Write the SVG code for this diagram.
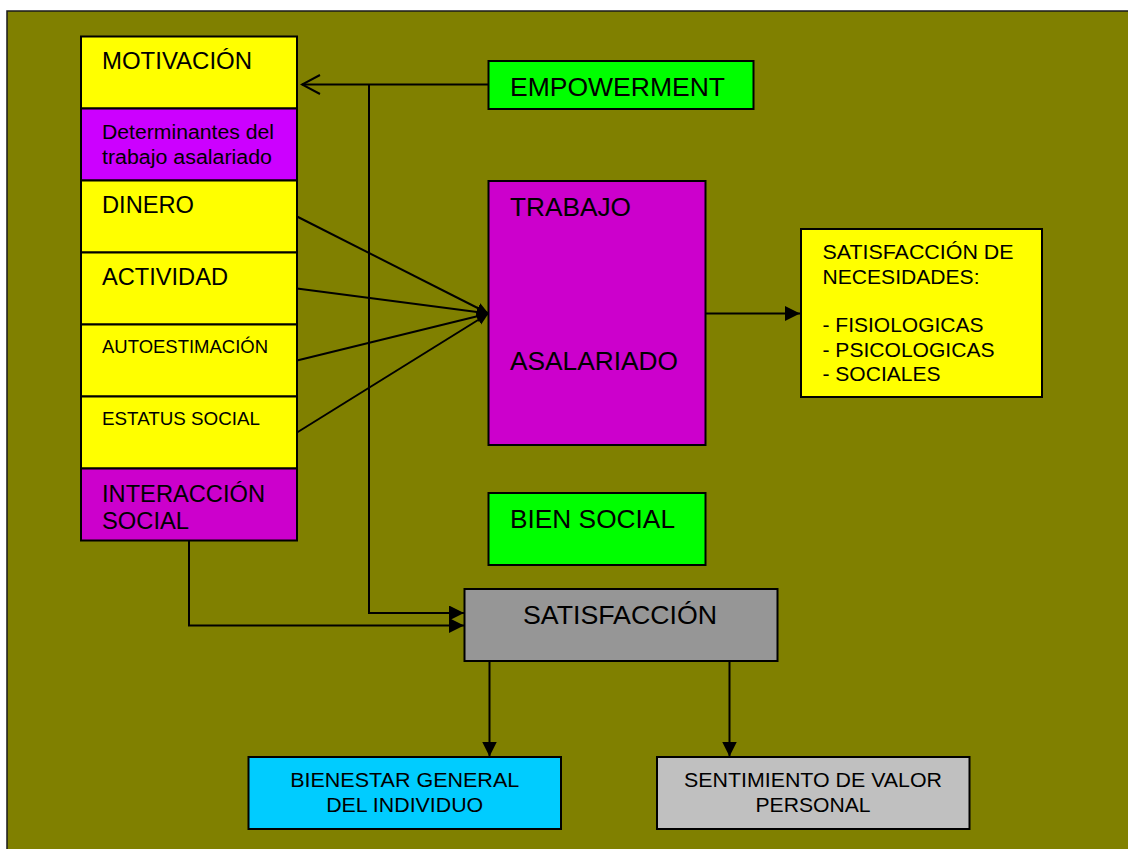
<svg xmlns="http://www.w3.org/2000/svg" width="1128" height="849" viewBox="0 0 1128 849">
  <style>
    text { font-family: "Liberation Sans", Arial, sans-serif; fill: #000; }
    .box { stroke: #000; stroke-width: 2; }
    .yellow { fill: #ffff00; }
    .violet { fill: #cc00ff; }
    .magenta { fill: #cc00cc; }
    .green { fill: #00ff00; }
    .grey { fill: #969696; }
    .silver { fill: #c0c0c0; }
    .cyan { fill: #00ccff; }
    .link { fill: none; stroke: #000; stroke-width: 2; }
    .mid { text-anchor: middle; }
  </style>
  <defs>
    <marker id="head" markerUnits="userSpaceOnUse" markerWidth="15" markerHeight="15" refX="15" refY="7.5" orient="auto">
      <path d="M0,0 L15,7.5 L0,15 z" fill="#000"/>
    </marker>
    <marker id="headSmall" markerUnits="userSpaceOnUse" markerWidth="12" markerHeight="12" refX="12" refY="6" orient="auto">
      <path d="M0,0.5 L12,6 L0,11.5 z" fill="#000"/>
    </marker>
    <marker id="open" markerUnits="userSpaceOnUse" markerWidth="22" markerHeight="24" refX="20" refY="12" orient="auto">
      <path d="M2,2.5 L20,12 L2,21.5" fill="none" stroke="#000" stroke-width="2"/>
    </marker>
  </defs>

  <!-- page background -->
  <rect x="7" y="11" width="1130" height="850" fill="#808000" stroke="#1a1a1a" stroke-width="1.5"/>

  <!-- connectors -->
  <g id="connectors">
    <path class="link" d="M488,84.5 H302" marker-end="url(#open)"/>
    <path class="link" d="M369,84.5 V613 H464" marker-end="url(#head)"/>
    <path class="link" d="M189,540.5 V625.5 H464" marker-end="url(#head)"/>
    <path class="link" d="M297,216.5 L488.5,313.5" marker-end="url(#headSmall)"/>
    <path class="link" d="M297,288.5 L488.5,313.5" marker-end="url(#headSmall)"/>
    <path class="link" d="M297,360.5 L488.5,313.5" marker-end="url(#headSmall)"/>
    <path class="link" d="M297,432.5 L488.5,313.5" marker-end="url(#headSmall)"/>
    <path class="link" d="M706,313.5 H800" marker-end="url(#head)"/>
    <path class="link" d="M489.5,661 V756.5" marker-end="url(#head)"/>
    <path class="link" d="M729.5,661 V756.5" marker-end="url(#head)"/>
  </g>

  <!-- left column -->
  <g id="motivacion">
    <rect class="box yellow" x="81" y="36.5" width="216" height="72"/>
    <text x="102" y="68.5" font-size="23" textLength="150" lengthAdjust="spacingAndGlyphs">MOTIVACIÓN</text>
  </g>
  <g id="determinantes">
    <rect class="box violet" x="81" y="108.5" width="216" height="72"/>
    <text x="102" y="138.5" font-size="20" textLength="172" lengthAdjust="spacingAndGlyphs">Determinantes del</text>
    <text x="102" y="163.5" font-size="20" textLength="170" lengthAdjust="spacingAndGlyphs">trabajo asalariado</text>
  </g>
  <g id="dinero">
    <rect class="box yellow" x="81" y="180.5" width="216" height="72"/>
    <text x="102" y="212.5" font-size="23" textLength="92" lengthAdjust="spacingAndGlyphs">DINERO</text>
  </g>
  <g id="actividad">
    <rect class="box yellow" x="81" y="252.5" width="216" height="72"/>
    <text x="102" y="284.5" font-size="23" textLength="126" lengthAdjust="spacingAndGlyphs">ACTIVIDAD</text>
  </g>
  <g id="autoestimacion">
    <rect class="box yellow" x="81" y="324.5" width="216" height="72"/>
    <text x="102" y="352.5" font-size="18" textLength="166" lengthAdjust="spacingAndGlyphs">AUTOESTIMACIÓN</text>
  </g>
  <g id="estatus">
    <rect class="box yellow" x="81" y="396.5" width="216" height="72"/>
    <text x="102" y="425" font-size="18" textLength="158" lengthAdjust="spacingAndGlyphs">ESTATUS SOCIAL</text>
  </g>
  <g id="interaccion">
    <rect class="box magenta" x="81" y="468.5" width="216" height="72"/>
    <text x="102" y="501.5" font-size="23" textLength="163" lengthAdjust="spacingAndGlyphs">INTERACCIÓN</text>
    <text x="102" y="528.5" font-size="23" textLength="87" lengthAdjust="spacingAndGlyphs">SOCIAL</text>
  </g>

  <!-- centre nodes -->
  <g id="empowerment">
    <rect class="box green" x="488.5" y="61" width="265" height="48"/>
    <text x="510" y="95.5" font-size="26" textLength="215" lengthAdjust="spacingAndGlyphs">EMPOWERMENT</text>
  </g>
  <g id="trabajo">
    <rect class="box magenta" x="488.5" y="181" width="217" height="264"/>
    <text x="510" y="215.5" font-size="25.5" textLength="121" lengthAdjust="spacingAndGlyphs">TRABAJO</text>
    <text x="510" y="370" font-size="25.5" textLength="168" lengthAdjust="spacingAndGlyphs">ASALARIADO</text>
  </g>
  <g id="bien-social">
    <rect class="box green" x="488.5" y="493" width="217" height="72"/>
    <text x="510" y="527.5" font-size="25.5" textLength="165" lengthAdjust="spacingAndGlyphs">BIEN SOCIAL</text>
  </g>
  <g id="satisfaccion">
    <rect class="box grey" x="464.5" y="589" width="313" height="72"/>
    <text x="523" y="624" font-size="25.5" textLength="194" lengthAdjust="spacingAndGlyphs">SATISFACCIÓN</text>
  </g>

  <!-- needs box -->
  <g id="necesidades">
    <rect class="box yellow" x="801" y="229" width="241" height="168"/>
    <text x="822.5" y="258.5" font-size="20" textLength="191" lengthAdjust="spacingAndGlyphs">SATISFACCIÓN DE</text>
    <text x="822.5" y="283.5" font-size="20" textLength="157" lengthAdjust="spacingAndGlyphs">NECESIDADES:</text>
    <text x="822.5" y="331.5" font-size="20" textLength="161" lengthAdjust="spacingAndGlyphs">- FISIOLOGICAS</text>
    <text x="822.5" y="356.5" font-size="20" textLength="172" lengthAdjust="spacingAndGlyphs">- PSICOLOGICAS</text>
    <text x="822.5" y="380.5" font-size="20" textLength="118" lengthAdjust="spacingAndGlyphs">- SOCIALES</text>
  </g>

  <!-- outcomes -->
  <g id="bienestar">
    <rect class="box cyan" x="248.5" y="757" width="312.5" height="72"/>
    <text class="mid" x="404.7" y="786.7" font-size="20" textLength="229" lengthAdjust="spacingAndGlyphs">BIENESTAR GENERAL</text>
    <text class="mid" x="404.7" y="811.7" font-size="20" textLength="157" lengthAdjust="spacingAndGlyphs">DEL INDIVIDUO</text>
  </g>
  <g id="sentimiento">
    <rect class="box silver" x="657" y="757" width="312.5" height="72"/>
    <text class="mid" x="813" y="786.7" font-size="20" textLength="258" lengthAdjust="spacingAndGlyphs">SENTIMIENTO DE VALOR</text>
    <text class="mid" x="813" y="811.7" font-size="20" textLength="115" lengthAdjust="spacingAndGlyphs">PERSONAL</text>
  </g>
</svg>
